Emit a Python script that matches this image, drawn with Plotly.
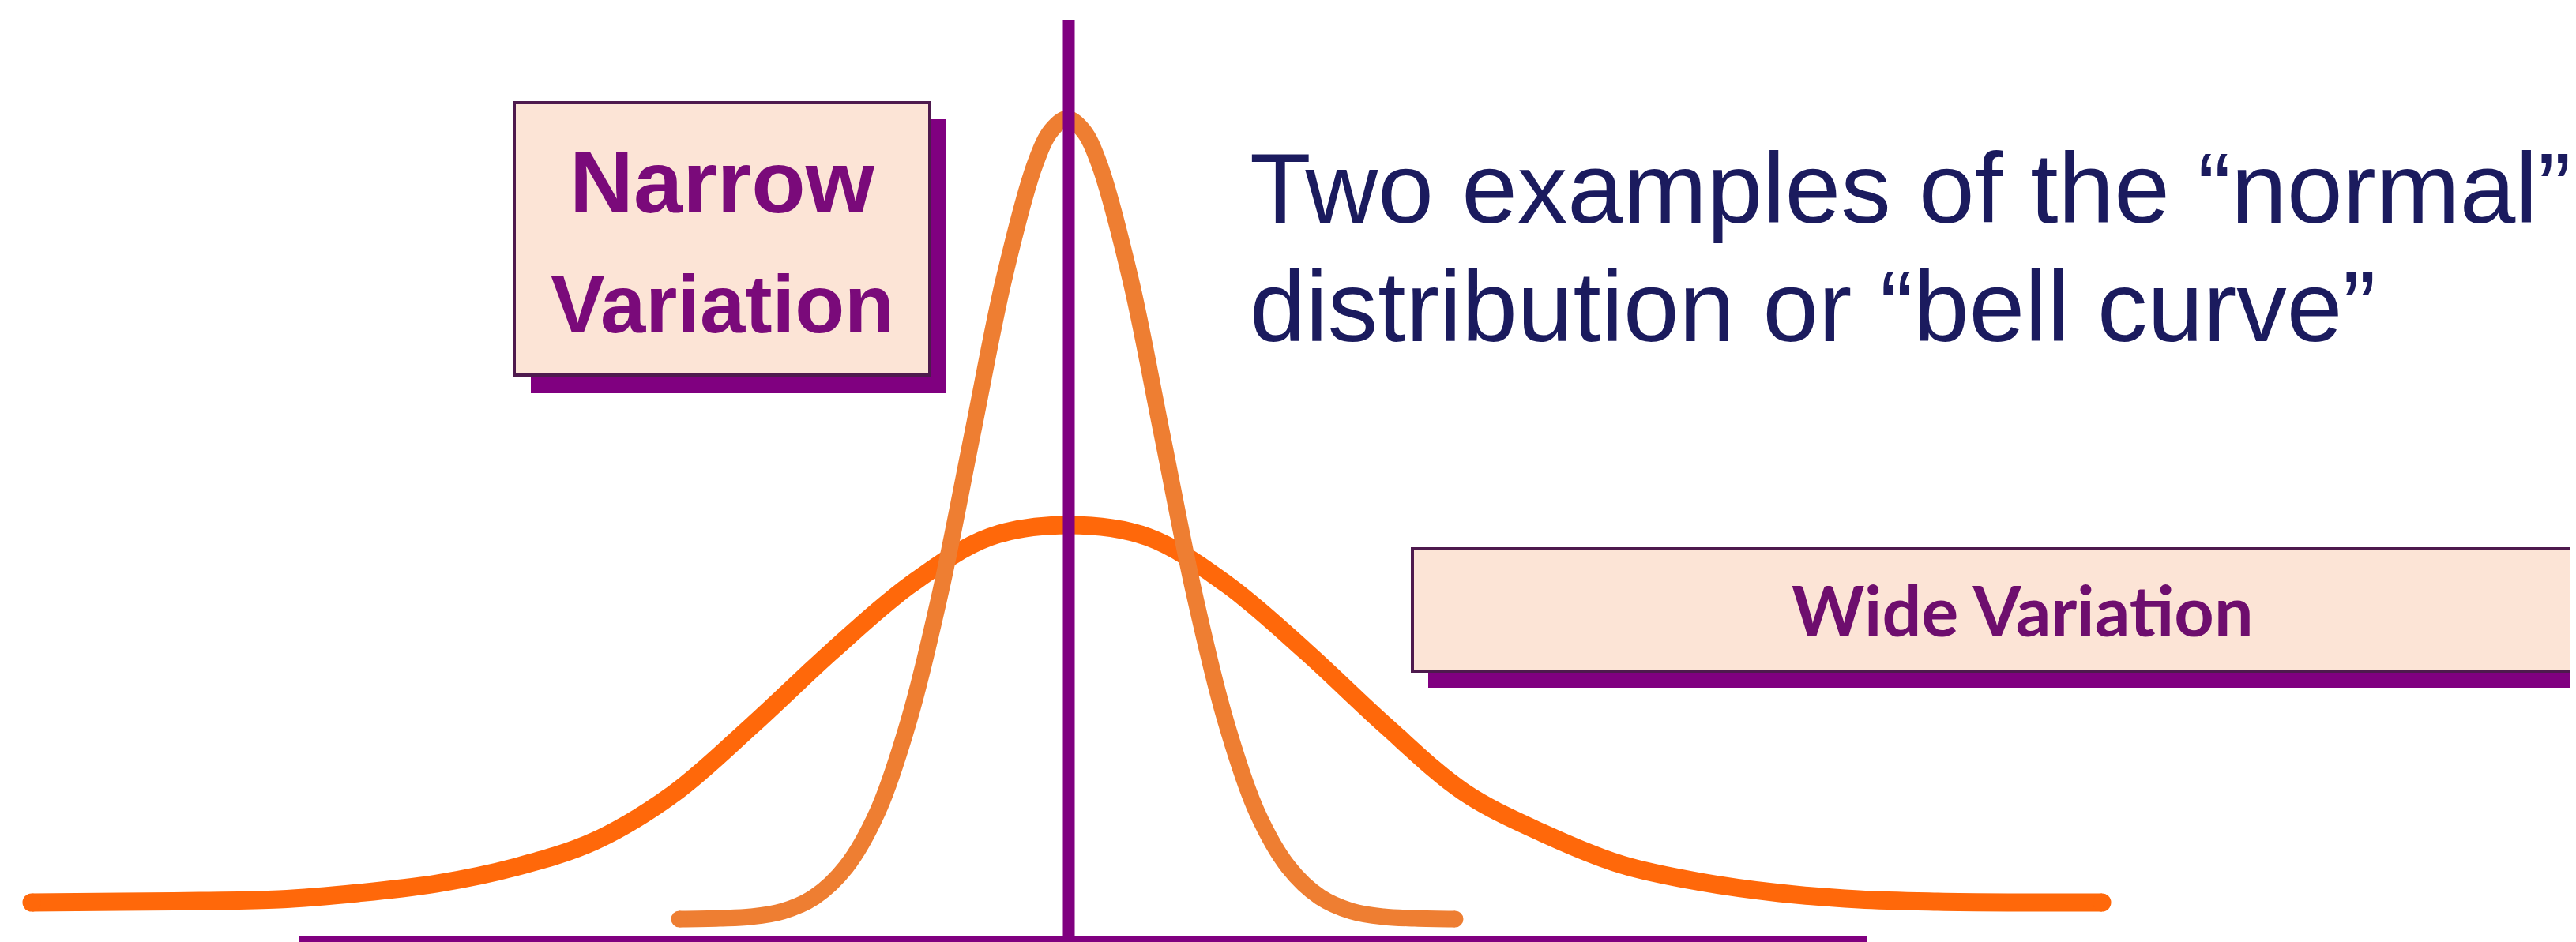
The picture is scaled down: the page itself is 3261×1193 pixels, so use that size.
import plotly.graph_objects as go

W, H = 3261, 1193

# ---- data (x: offset from the mean, y: height above the base line; arbitrary units) ----
wide_x = [-13.13, -12, -11, -10, -9, -8, -7, -6, -5, -4, -3, -2, -1, 0,
          1, 2, 3, 4, 5, 6, 7, 8, 9, 10, 11, 12, 13.08]
wide_y = [0.50, 0.51, 0.52, 0.54, 0.62, 0.74, 0.95, 1.28, 1.88, 2.75, 3.68, 4.53, 5.13, 5.28,
          5.13, 4.53, 3.68, 2.75, 1.90, 1.38, 0.98, 0.76, 0.62, 0.54, 0.51, 0.50, 0.50]

narrow_x = [-4.93, -4.42, -4.02, -3.62, -3.22, -2.82, -2.42, -2.02, -1.62, -1.22, -0.82, -0.42,
            -0.22, -0.02, 0.18, 0.38, 0.78, 1.18, 1.58, 1.98, 2.38, 2.78, 3.18, 3.58, 3.98,
            4.38, 4.89]
narrow_y = [0.29, 0.30, 0.32, 0.39, 0.57, 0.95, 1.65, 2.82, 4.45, 6.43, 8.40, 9.87,
            10.28, 10.43, 10.28, 9.87, 8.40, 6.43, 4.45, 2.82, 1.65, 0.95, 0.57, 0.39, 0.32,
            0.30, 0.29]

title_lines = ["Two examples of the \u201cnormal\u201d", "distribution or \u201cbell curve\u201d"]
narrow_label = ["Narrow", "Variation"]
wide_label = "Wide Variation"

# ---- style ----
WIDE_COLOR = "#FF680A"
NARROW_COLOR = "#EE7E32"
PURPLE = "#800080"
BORDER = "#4E1A4E"
BOX_FILL = "#FCE4D6"
NAVY = "#1B1B5E"


def PX(px):
    return px / W


def PY(py):
    return 1 - py / H


fig = go.Figure()
fig.add_trace(go.Scatter(x=wide_x, y=wide_y, mode="lines",
                         line=dict(color=WIDE_COLOR, width=23, shape="spline", smoothing=1.0),
                         hoverinfo="skip"))
fig.add_trace(go.Scatter(x=[wide_x[0], wide_x[-1]], y=[wide_y[0], wide_y[-1]], mode="markers",
                         marker=dict(color=WIDE_COLOR, size=23, line=dict(width=0)), hoverinfo="skip"))
fig.add_trace(go.Scatter(x=narrow_x, y=narrow_y, mode="lines",
                         line=dict(color=NARROW_COLOR, width=21, shape="spline", smoothing=1.0),
                         hoverinfo="skip"))
fig.add_trace(go.Scatter(x=[narrow_x[0], narrow_x[-1]], y=[narrow_y[0], narrow_y[-1]], mode="markers",
                         marker=dict(color=NARROW_COLOR, size=21, line=dict(width=0)), hoverinfo="skip"))

shapes = []
# axis: base bar and centre line (data coordinates)
shapes.append(dict(type="rect", xref="x", yref="y", x0=-9.75, x1=10.11, y0=-0.6, y1=0.08,
                   fillcolor=PURPLE, line=dict(width=0), layer="above"))
shapes.append(dict(type="rect", xref="x", yref="y", x0=-0.075, x1=0.075, y0=-0.6, y1=11.68,
                   fillcolor=PURPLE, line=dict(width=0), layer="above"))

# Narrow variation box with shadow
shapes.append(dict(type="rect", xref="paper", yref="paper", x0=PX(664), x1=PX(1190), y0=PY(490), y1=PY(143),
                   fillcolor=PURPLE, line=dict(width=0), layer="above"))
shapes.append(dict(type="rect", xref="paper", yref="paper", x0=PX(643), x1=PX(1169), y0=PY(467), y1=PY(122),
                   fillcolor=BOX_FILL, line=dict(color=BORDER, width=4), layer="above"))
# Wide variation box with shadow
shapes.append(dict(type="rect", xref="paper", yref="paper", x0=PX(1800), x1=PX(3320), y0=PY(863), y1=PY(708),
                   fillcolor=PURPLE, line=dict(width=0), layer="above"))
shapes.append(dict(type="rect", xref="paper", yref="paper", x0=PX(1780), x1=PX(3320), y0=PY(842), y1=PY(687),
                   fillcolor=BOX_FILL, line=dict(color=BORDER, width=4), layer="above"))

annotations = []
for txt, yc, fs in zip(narrow_label, [222, 377], [112, 103]):
    annotations.append(dict(text=txt, xref="paper", yref="paper", x=PX(906), y=PY(yc),
                            xanchor="center", yanchor="middle", showarrow=False,
                            font=dict(family="Liberation Sans, Arial, sans-serif", size=fs,
                                      color="#7A0A7A", weight="bold")))
for txt, yc in zip(title_lines, [230, 380]):
    annotations.append(dict(text=txt, xref="paper", yref="paper", x=PX(1572), y=PY(yc),
                            xanchor="left", yanchor="middle", showarrow=False,
                            font=dict(family="Liberation Sans, Arial, sans-serif", size=127, color=NAVY)))
annotations.append(dict(text=wide_label, xref="paper", yref="paper", x=PX(2552), y=PY(764),
                        xanchor="center", yanchor="middle", showarrow=False,
                        font=dict(family="Lato, sans-serif", size=88, color="#6E0E6E", weight="bold")))

fig.update_layout(
    width=W, height=H, autosize=False,
    margin=dict(l=0, r=0, t=0, b=0, pad=0),
    paper_bgcolor="white", plot_bgcolor="white",
    showlegend=False,
    xaxis=dict(visible=False, range=[-13.45, 19.16], fixedrange=True),
    yaxis=dict(visible=False, range=[-0.08, 11.85], fixedrange=True),
    shapes=shapes, annotations=annotations,
)

fig.write_html("out.html", config={"displayModeBar": False})
